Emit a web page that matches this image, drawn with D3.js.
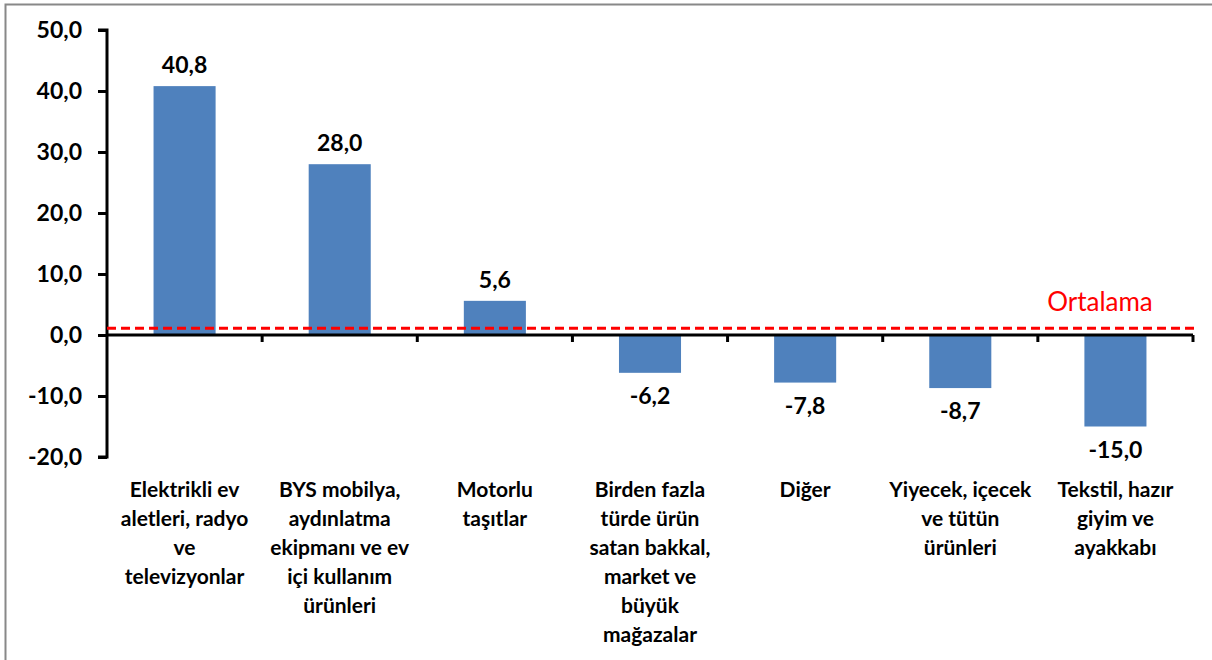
<!DOCTYPE html>
<html>
<head>
<meta charset="utf-8">
<script src="https://cdn.jsdelivr.net/npm/d3@7"></script>
<style>
  body { margin: 0; background: #fff; }
  svg { display: block; font-family: Lato, "Open Sans", sans-serif; }
</style>
</head>
<body>
<script>
const width = 1212;
const height = 660;

// kategoriler (satır kırılımlarıyla)
const categories = [
  ['Elektrikli ev', 'aletleri, radyo', 've', 'televizyonlar'],
  ['BYS mobilya,', 'aydınlatma', 'ekipmanı ve ev', 'içi kullanım', 'ürünleri'],
  ['Motorlu', 'taşıtlar'],
  ['Birden fazla', 'türde ürün', 'satan bakkal,', 'market ve', 'büyük', 'mağazalar'],
  ['Diğer'],
  ['Yiyecek, içecek', 've tütün', 'ürünleri'],
  ['Tekstil, hazır', 'giyim ve', 'ayakkabı']
];
const values = [40.8, 28.0, 5.6, -6.2, -7.8, -8.7, -15.0];
const average = 1.1;
const yTicks = [-20, -10, 0, 10, 20, 30, 40, 50];

const plotLeft = 107, plotRight = 1193, plotTop = 30, plotBottom = 457;

const x = d3.scaleBand()
  .domain(d3.range(categories.length))
  .range([plotLeft, plotRight])
  .paddingInner(0.6)
  .paddingOuter(0.3);

const y = d3.scaleLinear()
  .domain([-20, 50])
  .range([plotBottom, plotTop]);

const fmt = v => d3.format('.1f')(v).replace('.', ',').replace('\u2212', '-');

const svg = d3.select('body')
  .append('svg')
  .attr('width', width)
  .attr('height', height);

// çerçeve
svg.append('rect')
  .attr('x', 5.5).attr('y', 4.5)
  .attr('width', width + 10).attr('height', height + 10)
  .attr('fill', 'none')
  .attr('stroke', '#888')
  .attr('stroke-width', 2);

// çubuklar
svg.selectAll('rect.bar')
  .data(values)
  .enter()
  .append('rect')
  .attr('class', 'bar')
  .attr('x', (d, i) => x(i))
  .attr('width', x.bandwidth())
  .attr('y', d => y(Math.max(0, d)))
  .attr('height', d => Math.abs(y(d) - y(0)))
  .attr('fill', '#4f81bd');

// değer etiketleri
svg.selectAll('text.val')
  .data(values)
  .enter()
  .append('text')
  .attr('class', 'val')
  .attr('x', (d, i) => x(i) + x.bandwidth() / 2)
  .attr('y', d => d >= 0 ? y(d) - 13 : y(d) + 31)
  .attr('text-anchor', 'middle')
  .attr('font-size', 23)
  .attr('font-weight', 'bold')
  .text(d => fmt(d));

// y ekseni
const yAxis = d3.axisLeft(y)
  .tickValues(yTicks)
  .tickSize(9)
  .tickFormat(fmt);

const gy = svg.append('g')
  .attr('transform', `translate(${plotLeft},0)`)
  .call(yAxis);
gy.select('.domain').attr('stroke', '#000').attr('stroke-width', 3)
  .attr('d', `M-9,${plotTop}H0V${plotBottom}H-9`);
gy.selectAll('.tick line').attr('stroke', '#000').attr('stroke-width', 3);
gy.selectAll('.tick text')
  .attr('x', -25)
  .attr('font-size', 23)
  .attr('font-weight', 'bold')
  .attr('font-family', 'Lato, sans-serif')
  .attr('fill', '#000');

// x ekseni (sıfır çizgisinde)
const bounds = d3.range(categories.length + 1).map(i => plotLeft + i * (plotRight - plotLeft) / categories.length);
svg.append('line')
  .attr('x1', plotLeft).attr('x2', plotRight)
  .attr('y1', y(0)).attr('y2', y(0))
  .attr('stroke', '#000').attr('stroke-width', 3);
svg.selectAll('line.xtick')
  .data(bounds.slice(1))
  .enter()
  .append('line')
  .attr('class', 'xtick')
  .attr('x1', d => d).attr('x2', d => d)
  .attr('y1', y(0)).attr('y2', y(0) + 7)
  .attr('stroke', '#000').attr('stroke-width', 3);

// ortalama çizgisi
svg.append('line')
  .attr('x1', plotLeft).attr('x2', 1197)
  .attr('y1', y(average)).attr('y2', y(average))
  .attr('stroke', '#ff0000')
  .attr('stroke-width', 3)
  .attr('stroke-dasharray', '9,5');

svg.append('text')
  .attr('x', 1100)
  .attr('y', y(average) - 17)
  .attr('text-anchor', 'middle')
  .attr('font-size', 26)
  .attr('fill', '#ff0000')
  .text('Ortalama');

// kategori etiketleri
const cat = svg.selectAll('text.cat')
  .data(categories)
  .enter()
  .append('text')
  .attr('class', 'cat')
  .attr('text-anchor', 'middle')
  .attr('font-size', 21)
  .attr('font-weight', 'bold')
  .attr('fill', '#000');

cat.selectAll('tspan')
  .data((d, i) => d.map(line => ({ line, i })))
  .enter()
  .append('tspan')
  .attr('x', d => x(d.i) + x.bandwidth() / 2)
  .attr('y', (d, j) => 497 + j * 29)
  .text(d => d.line);
</script>
</body>
</html>
